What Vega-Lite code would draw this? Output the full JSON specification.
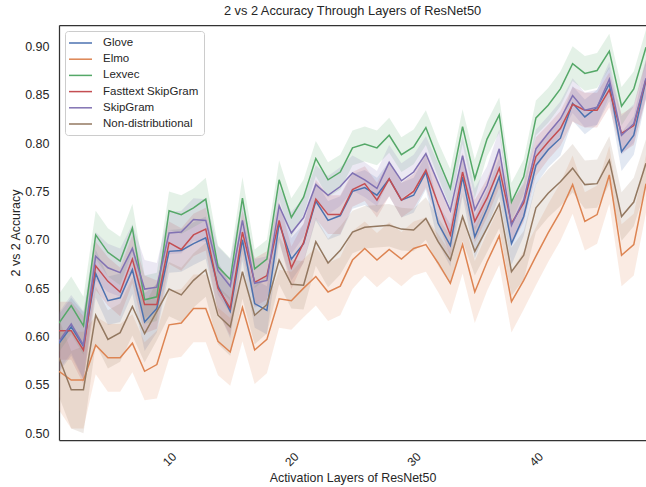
{
"$schema": "https://vega.github.io/schema/vega-lite/v6.json",
"width": 587, "height": 415,
"autosize": "none",
"padding": {"left": 59, "top": 25, "right": 0, "bottom": 47},
"background": "white",
"config": {"view": {"stroke": null}, "font": "Liberation Sans"},
"title": {"text": "2 vs 2 Accuracy Through Layers of ResNet50", "fontSize": 12.8, "fontWeight": "normal", "color": "#262626", "font": "Liberation Sans", "offset": 7},
"resolve": {"axis": {"x": "independent"}},
"data": {"values": [
{"layer":1,"model":"Glove","acc":0.593,"lo":0.563,"hi":0.623},
{"layer":2,"model":"Glove","acc":0.610,"lo":0.580,"hi":0.640},
{"layer":3,"model":"Glove","acc":0.590,"lo":0.555,"hi":0.625},
{"layer":4,"model":"Glove","acc":0.665,"lo":0.640,"hi":0.690},
{"layer":5,"model":"Glove","acc":0.637,"lo":0.612,"hi":0.662},
{"layer":6,"model":"Glove","acc":0.640,"lo":0.615,"hi":0.665},
{"layer":7,"model":"Glove","acc":0.669,"lo":0.644,"hi":0.694},
{"layer":8,"model":"Glove","acc":0.615,"lo":0.585,"hi":0.645},
{"layer":9,"model":"Glove","acc":0.629,"lo":0.604,"hi":0.654},
{"layer":10,"model":"Glove","acc":0.688,"lo":0.666,"hi":0.710},
{"layer":11,"model":"Glove","acc":0.689,"lo":0.667,"hi":0.711},
{"layer":12,"model":"Glove","acc":0.696,"lo":0.674,"hi":0.718},
{"layer":13,"model":"Glove","acc":0.702,"lo":0.680,"hi":0.724},
{"layer":14,"model":"Glove","acc":0.652,"lo":0.627,"hi":0.677},
{"layer":15,"model":"Glove","acc":0.626,"lo":0.598,"hi":0.654},
{"layer":16,"model":"Glove","acc":0.700,"lo":0.678,"hi":0.722},
{"layer":17,"model":"Glove","acc":0.634,"lo":0.609,"hi":0.659},
{"layer":18,"model":"Glove","acc":0.627,"lo":0.602,"hi":0.652},
{"layer":19,"model":"Glove","acc":0.717,"lo":0.697,"hi":0.737},
{"layer":20,"model":"Glove","acc":0.680,"lo":0.658,"hi":0.702},
{"layer":21,"model":"Glove","acc":0.696,"lo":0.676,"hi":0.716},
{"layer":22,"model":"Glove","acc":0.740,"lo":0.720,"hi":0.760},
{"layer":23,"model":"Glove","acc":0.720,"lo":0.700,"hi":0.740},
{"layer":24,"model":"Glove","acc":0.725,"lo":0.705,"hi":0.745},
{"layer":25,"model":"Glove","acc":0.750,"lo":0.732,"hi":0.768},
{"layer":26,"model":"Glove","acc":0.754,"lo":0.736,"hi":0.772},
{"layer":27,"model":"Glove","acc":0.746,"lo":0.728,"hi":0.764},
{"layer":28,"model":"Glove","acc":0.763,"lo":0.745,"hi":0.781},
{"layer":29,"model":"Glove","acc":0.741,"lo":0.723,"hi":0.759},
{"layer":30,"model":"Glove","acc":0.746,"lo":0.728,"hi":0.764},
{"layer":31,"model":"Glove","acc":0.770,"lo":0.752,"hi":0.788},
{"layer":32,"model":"Glove","acc":0.717,"lo":0.697,"hi":0.737},
{"layer":33,"model":"Glove","acc":0.694,"lo":0.672,"hi":0.716},
{"layer":34,"model":"Glove","acc":0.765,"lo":0.745,"hi":0.785},
{"layer":35,"model":"Glove","acc":0.703,"lo":0.681,"hi":0.725},
{"layer":36,"model":"Glove","acc":0.732,"lo":0.712,"hi":0.752},
{"layer":37,"model":"Glove","acc":0.765,"lo":0.745,"hi":0.785},
{"layer":38,"model":"Glove","acc":0.696,"lo":0.674,"hi":0.718},
{"layer":39,"model":"Glove","acc":0.724,"lo":0.704,"hi":0.744},
{"layer":40,"model":"Glove","acc":0.777,"lo":0.757,"hi":0.797},
{"layer":41,"model":"Glove","acc":0.793,"lo":0.775,"hi":0.811},
{"layer":42,"model":"Glove","acc":0.805,"lo":0.787,"hi":0.823},
{"layer":43,"model":"Glove","acc":0.841,"lo":0.823,"hi":0.859},
{"layer":44,"model":"Glove","acc":0.827,"lo":0.809,"hi":0.845},
{"layer":45,"model":"Glove","acc":0.837,"lo":0.819,"hi":0.855},
{"layer":46,"model":"Glove","acc":0.861,"lo":0.843,"hi":0.879},
{"layer":47,"model":"Glove","acc":0.791,"lo":0.771,"hi":0.811},
{"layer":48,"model":"Glove","acc":0.808,"lo":0.788,"hi":0.828},
{"layer":49,"model":"Glove","acc":0.865,"lo":0.845,"hi":0.885},
{"layer":1,"model":"Elmo","acc":0.564,"lo":0.524,"hi":0.604},
{"layer":2,"model":"Elmo","acc":0.555,"lo":0.505,"hi":0.605},
{"layer":3,"model":"Elmo","acc":0.555,"lo":0.505,"hi":0.605},
{"layer":4,"model":"Elmo","acc":0.591,"lo":0.561,"hi":0.621},
{"layer":5,"model":"Elmo","acc":0.578,"lo":0.543,"hi":0.613},
{"layer":6,"model":"Elmo","acc":0.578,"lo":0.543,"hi":0.613},
{"layer":7,"model":"Elmo","acc":0.593,"lo":0.563,"hi":0.623},
{"layer":8,"model":"Elmo","acc":0.564,"lo":0.534,"hi":0.594},
{"layer":9,"model":"Elmo","acc":0.571,"lo":0.536,"hi":0.606},
{"layer":10,"model":"Elmo","acc":0.612,"lo":0.577,"hi":0.647},
{"layer":11,"model":"Elmo","acc":0.614,"lo":0.579,"hi":0.649},
{"layer":12,"model":"Elmo","acc":0.629,"lo":0.594,"hi":0.664},
{"layer":13,"model":"Elmo","acc":0.629,"lo":0.594,"hi":0.664},
{"layer":14,"model":"Elmo","acc":0.595,"lo":0.560,"hi":0.630},
{"layer":15,"model":"Elmo","acc":0.584,"lo":0.549,"hi":0.619},
{"layer":16,"model":"Elmo","acc":0.630,"lo":0.595,"hi":0.665},
{"layer":17,"model":"Elmo","acc":0.586,"lo":0.551,"hi":0.621},
{"layer":18,"model":"Elmo","acc":0.597,"lo":0.562,"hi":0.632},
{"layer":19,"model":"Elmo","acc":0.639,"lo":0.609,"hi":0.669},
{"layer":20,"model":"Elmo","acc":0.637,"lo":0.607,"hi":0.667},
{"layer":21,"model":"Elmo","acc":0.650,"lo":0.620,"hi":0.680},
{"layer":22,"model":"Elmo","acc":0.662,"lo":0.632,"hi":0.692},
{"layer":23,"model":"Elmo","acc":0.646,"lo":0.616,"hi":0.676},
{"layer":24,"model":"Elmo","acc":0.652,"lo":0.622,"hi":0.682},
{"layer":25,"model":"Elmo","acc":0.679,"lo":0.649,"hi":0.709},
{"layer":26,"model":"Elmo","acc":0.691,"lo":0.663,"hi":0.719},
{"layer":27,"model":"Elmo","acc":0.679,"lo":0.651,"hi":0.707},
{"layer":28,"model":"Elmo","acc":0.690,"lo":0.662,"hi":0.718},
{"layer":29,"model":"Elmo","acc":0.680,"lo":0.652,"hi":0.708},
{"layer":30,"model":"Elmo","acc":0.691,"lo":0.663,"hi":0.719},
{"layer":31,"model":"Elmo","acc":0.695,"lo":0.667,"hi":0.723},
{"layer":32,"model":"Elmo","acc":0.676,"lo":0.646,"hi":0.706},
{"layer":33,"model":"Elmo","acc":0.655,"lo":0.623,"hi":0.687},
{"layer":34,"model":"Elmo","acc":0.695,"lo":0.665,"hi":0.725},
{"layer":35,"model":"Elmo","acc":0.646,"lo":0.614,"hi":0.678},
{"layer":36,"model":"Elmo","acc":0.677,"lo":0.647,"hi":0.707},
{"layer":37,"model":"Elmo","acc":0.704,"lo":0.674,"hi":0.734},
{"layer":38,"model":"Elmo","acc":0.636,"lo":0.604,"hi":0.668},
{"layer":39,"model":"Elmo","acc":0.658,"lo":0.628,"hi":0.688},
{"layer":40,"model":"Elmo","acc":0.683,"lo":0.653,"hi":0.713},
{"layer":41,"model":"Elmo","acc":0.707,"lo":0.677,"hi":0.737},
{"layer":42,"model":"Elmo","acc":0.729,"lo":0.699,"hi":0.759},
{"layer":43,"model":"Elmo","acc":0.757,"lo":0.727,"hi":0.787},
{"layer":44,"model":"Elmo","acc":0.719,"lo":0.689,"hi":0.749},
{"layer":45,"model":"Elmo","acc":0.726,"lo":0.696,"hi":0.756},
{"layer":46,"model":"Elmo","acc":0.767,"lo":0.737,"hi":0.797},
{"layer":47,"model":"Elmo","acc":0.684,"lo":0.652,"hi":0.716},
{"layer":48,"model":"Elmo","acc":0.695,"lo":0.663,"hi":0.727},
{"layer":49,"model":"Elmo","acc":0.758,"lo":0.728,"hi":0.788},
{"layer":1,"model":"Lexvec","acc":0.614,"lo":0.584,"hi":0.644},
{"layer":2,"model":"Lexvec","acc":0.632,"lo":0.602,"hi":0.662},
{"layer":3,"model":"Lexvec","acc":0.611,"lo":0.581,"hi":0.641},
{"layer":4,"model":"Lexvec","acc":0.705,"lo":0.680,"hi":0.730},
{"layer":5,"model":"Lexvec","acc":0.687,"lo":0.662,"hi":0.712},
{"layer":6,"model":"Lexvec","acc":0.678,"lo":0.653,"hi":0.703},
{"layer":7,"model":"Lexvec","acc":0.712,"lo":0.687,"hi":0.737},
{"layer":8,"model":"Lexvec","acc":0.638,"lo":0.613,"hi":0.663},
{"layer":9,"model":"Lexvec","acc":0.641,"lo":0.616,"hi":0.666},
{"layer":10,"model":"Lexvec","acc":0.730,"lo":0.710,"hi":0.750},
{"layer":11,"model":"Lexvec","acc":0.726,"lo":0.706,"hi":0.746},
{"layer":12,"model":"Lexvec","acc":0.733,"lo":0.713,"hi":0.753},
{"layer":13,"model":"Lexvec","acc":0.742,"lo":0.720,"hi":0.764},
{"layer":14,"model":"Lexvec","acc":0.672,"lo":0.650,"hi":0.694},
{"layer":15,"model":"Lexvec","acc":0.659,"lo":0.637,"hi":0.681},
{"layer":16,"model":"Lexvec","acc":0.743,"lo":0.721,"hi":0.765},
{"layer":17,"model":"Lexvec","acc":0.670,"lo":0.650,"hi":0.690},
{"layer":18,"model":"Lexvec","acc":0.680,"lo":0.660,"hi":0.700},
{"layer":19,"model":"Lexvec","acc":0.762,"lo":0.742,"hi":0.782},
{"layer":20,"model":"Lexvec","acc":0.723,"lo":0.703,"hi":0.743},
{"layer":21,"model":"Lexvec","acc":0.744,"lo":0.726,"hi":0.762},
{"layer":22,"model":"Lexvec","acc":0.784,"lo":0.766,"hi":0.802},
{"layer":23,"model":"Lexvec","acc":0.762,"lo":0.744,"hi":0.780},
{"layer":24,"model":"Lexvec","acc":0.770,"lo":0.752,"hi":0.788},
{"layer":25,"model":"Lexvec","acc":0.795,"lo":0.777,"hi":0.813},
{"layer":26,"model":"Lexvec","acc":0.799,"lo":0.781,"hi":0.817},
{"layer":27,"model":"Lexvec","acc":0.795,"lo":0.777,"hi":0.813},
{"layer":28,"model":"Lexvec","acc":0.808,"lo":0.790,"hi":0.826},
{"layer":29,"model":"Lexvec","acc":0.788,"lo":0.770,"hi":0.806},
{"layer":30,"model":"Lexvec","acc":0.796,"lo":0.778,"hi":0.814},
{"layer":31,"model":"Lexvec","acc":0.816,"lo":0.798,"hi":0.834},
{"layer":32,"model":"Lexvec","acc":0.783,"lo":0.765,"hi":0.801},
{"layer":33,"model":"Lexvec","acc":0.753,"lo":0.733,"hi":0.773},
{"layer":34,"model":"Lexvec","acc":0.817,"lo":0.799,"hi":0.835},
{"layer":35,"model":"Lexvec","acc":0.763,"lo":0.743,"hi":0.783},
{"layer":36,"model":"Lexvec","acc":0.804,"lo":0.786,"hi":0.822},
{"layer":37,"model":"Lexvec","acc":0.829,"lo":0.811,"hi":0.847},
{"layer":38,"model":"Lexvec","acc":0.739,"lo":0.719,"hi":0.759},
{"layer":39,"model":"Lexvec","acc":0.765,"lo":0.747,"hi":0.783},
{"layer":40,"model":"Lexvec","acc":0.826,"lo":0.808,"hi":0.844},
{"layer":41,"model":"Lexvec","acc":0.839,"lo":0.821,"hi":0.857},
{"layer":42,"model":"Lexvec","acc":0.856,"lo":0.838,"hi":0.874},
{"layer":43,"model":"Lexvec","acc":0.882,"lo":0.864,"hi":0.900},
{"layer":44,"model":"Lexvec","acc":0.872,"lo":0.854,"hi":0.890},
{"layer":45,"model":"Lexvec","acc":0.875,"lo":0.857,"hi":0.893},
{"layer":46,"model":"Lexvec","acc":0.895,"lo":0.877,"hi":0.913},
{"layer":47,"model":"Lexvec","acc":0.838,"lo":0.818,"hi":0.858},
{"layer":48,"model":"Lexvec","acc":0.856,"lo":0.838,"hi":0.874},
{"layer":49,"model":"Lexvec","acc":0.899,"lo":0.881,"hi":0.917},
{"layer":1,"model":"Fasttext SkipGram","acc":0.606,"lo":0.576,"hi":0.636},
{"layer":2,"model":"Fasttext SkipGram","acc":0.606,"lo":0.576,"hi":0.636},
{"layer":3,"model":"Fasttext SkipGram","acc":0.586,"lo":0.551,"hi":0.621},
{"layer":4,"model":"Fasttext SkipGram","acc":0.673,"lo":0.648,"hi":0.698},
{"layer":5,"model":"Fasttext SkipGram","acc":0.657,"lo":0.632,"hi":0.682},
{"layer":6,"model":"Fasttext SkipGram","acc":0.646,"lo":0.621,"hi":0.671},
{"layer":7,"model":"Fasttext SkipGram","acc":0.680,"lo":0.655,"hi":0.705},
{"layer":8,"model":"Fasttext SkipGram","acc":0.633,"lo":0.603,"hi":0.663},
{"layer":9,"model":"Fasttext SkipGram","acc":0.633,"lo":0.608,"hi":0.658},
{"layer":10,"model":"Fasttext SkipGram","acc":0.697,"lo":0.675,"hi":0.719},
{"layer":11,"model":"Fasttext SkipGram","acc":0.690,"lo":0.668,"hi":0.712},
{"layer":12,"model":"Fasttext SkipGram","acc":0.705,"lo":0.683,"hi":0.727},
{"layer":13,"model":"Fasttext SkipGram","acc":0.711,"lo":0.689,"hi":0.733},
{"layer":14,"model":"Fasttext SkipGram","acc":0.650,"lo":0.625,"hi":0.675},
{"layer":15,"model":"Fasttext SkipGram","acc":0.629,"lo":0.601,"hi":0.657},
{"layer":16,"model":"Fasttext SkipGram","acc":0.708,"lo":0.686,"hi":0.730},
{"layer":17,"model":"Fasttext SkipGram","acc":0.656,"lo":0.631,"hi":0.681},
{"layer":18,"model":"Fasttext SkipGram","acc":0.663,"lo":0.638,"hi":0.688},
{"layer":19,"model":"Fasttext SkipGram","acc":0.720,"lo":0.700,"hi":0.740},
{"layer":20,"model":"Fasttext SkipGram","acc":0.671,"lo":0.649,"hi":0.693},
{"layer":21,"model":"Fasttext SkipGram","acc":0.697,"lo":0.677,"hi":0.717},
{"layer":22,"model":"Fasttext SkipGram","acc":0.742,"lo":0.722,"hi":0.762},
{"layer":23,"model":"Fasttext SkipGram","acc":0.726,"lo":0.706,"hi":0.746},
{"layer":24,"model":"Fasttext SkipGram","acc":0.726,"lo":0.706,"hi":0.746},
{"layer":25,"model":"Fasttext SkipGram","acc":0.752,"lo":0.734,"hi":0.770},
{"layer":26,"model":"Fasttext SkipGram","acc":0.758,"lo":0.740,"hi":0.776},
{"layer":27,"model":"Fasttext SkipGram","acc":0.741,"lo":0.723,"hi":0.759},
{"layer":28,"model":"Fasttext SkipGram","acc":0.763,"lo":0.745,"hi":0.781},
{"layer":29,"model":"Fasttext SkipGram","acc":0.741,"lo":0.723,"hi":0.759},
{"layer":30,"model":"Fasttext SkipGram","acc":0.750,"lo":0.732,"hi":0.768},
{"layer":31,"model":"Fasttext SkipGram","acc":0.772,"lo":0.754,"hi":0.790},
{"layer":32,"model":"Fasttext SkipGram","acc":0.737,"lo":0.717,"hi":0.757},
{"layer":33,"model":"Fasttext SkipGram","acc":0.705,"lo":0.683,"hi":0.727},
{"layer":34,"model":"Fasttext SkipGram","acc":0.770,"lo":0.750,"hi":0.790},
{"layer":35,"model":"Fasttext SkipGram","acc":0.719,"lo":0.697,"hi":0.741},
{"layer":36,"model":"Fasttext SkipGram","acc":0.743,"lo":0.723,"hi":0.763},
{"layer":37,"model":"Fasttext SkipGram","acc":0.774,"lo":0.754,"hi":0.794},
{"layer":38,"model":"Fasttext SkipGram","acc":0.717,"lo":0.695,"hi":0.739},
{"layer":39,"model":"Fasttext SkipGram","acc":0.738,"lo":0.718,"hi":0.758},
{"layer":40,"model":"Fasttext SkipGram","acc":0.786,"lo":0.766,"hi":0.806},
{"layer":41,"model":"Fasttext SkipGram","acc":0.801,"lo":0.783,"hi":0.819},
{"layer":42,"model":"Fasttext SkipGram","acc":0.815,"lo":0.797,"hi":0.833},
{"layer":43,"model":"Fasttext SkipGram","acc":0.840,"lo":0.822,"hi":0.858},
{"layer":44,"model":"Fasttext SkipGram","acc":0.834,"lo":0.816,"hi":0.852},
{"layer":45,"model":"Fasttext SkipGram","acc":0.834,"lo":0.816,"hi":0.852},
{"layer":46,"model":"Fasttext SkipGram","acc":0.855,"lo":0.837,"hi":0.873},
{"layer":47,"model":"Fasttext SkipGram","acc":0.810,"lo":0.790,"hi":0.830},
{"layer":48,"model":"Fasttext SkipGram","acc":0.818,"lo":0.798,"hi":0.838},
{"layer":49,"model":"Fasttext SkipGram","acc":0.866,"lo":0.846,"hi":0.886},
{"layer":1,"model":"SkipGram","acc":0.595,"lo":0.565,"hi":0.625},
{"layer":2,"model":"SkipGram","acc":0.613,"lo":0.583,"hi":0.643},
{"layer":3,"model":"SkipGram","acc":0.591,"lo":0.556,"hi":0.626},
{"layer":4,"model":"SkipGram","acc":0.683,"lo":0.658,"hi":0.708},
{"layer":5,"model":"SkipGram","acc":0.671,"lo":0.646,"hi":0.696},
{"layer":6,"model":"SkipGram","acc":0.666,"lo":0.641,"hi":0.691},
{"layer":7,"model":"SkipGram","acc":0.691,"lo":0.666,"hi":0.716},
{"layer":8,"model":"SkipGram","acc":0.649,"lo":0.619,"hi":0.679},
{"layer":9,"model":"SkipGram","acc":0.651,"lo":0.626,"hi":0.676},
{"layer":10,"model":"SkipGram","acc":0.707,"lo":0.685,"hi":0.729},
{"layer":11,"model":"SkipGram","acc":0.708,"lo":0.686,"hi":0.730},
{"layer":12,"model":"SkipGram","acc":0.721,"lo":0.699,"hi":0.743},
{"layer":13,"model":"SkipGram","acc":0.720,"lo":0.698,"hi":0.742},
{"layer":14,"model":"SkipGram","acc":0.668,"lo":0.643,"hi":0.693},
{"layer":15,"model":"SkipGram","acc":0.652,"lo":0.624,"hi":0.680},
{"layer":16,"model":"SkipGram","acc":0.720,"lo":0.698,"hi":0.742},
{"layer":17,"model":"SkipGram","acc":0.655,"lo":0.630,"hi":0.680},
{"layer":18,"model":"SkipGram","acc":0.658,"lo":0.633,"hi":0.683},
{"layer":19,"model":"SkipGram","acc":0.735,"lo":0.715,"hi":0.755},
{"layer":20,"model":"SkipGram","acc":0.707,"lo":0.685,"hi":0.729},
{"layer":21,"model":"SkipGram","acc":0.723,"lo":0.703,"hi":0.743},
{"layer":22,"model":"SkipGram","acc":0.757,"lo":0.737,"hi":0.777},
{"layer":23,"model":"SkipGram","acc":0.746,"lo":0.726,"hi":0.766},
{"layer":24,"model":"SkipGram","acc":0.755,"lo":0.735,"hi":0.775},
{"layer":25,"model":"SkipGram","acc":0.769,"lo":0.751,"hi":0.787},
{"layer":26,"model":"SkipGram","acc":0.762,"lo":0.744,"hi":0.780},
{"layer":27,"model":"SkipGram","acc":0.753,"lo":0.735,"hi":0.771},
{"layer":28,"model":"SkipGram","acc":0.780,"lo":0.762,"hi":0.798},
{"layer":29,"model":"SkipGram","acc":0.761,"lo":0.743,"hi":0.779},
{"layer":30,"model":"SkipGram","acc":0.770,"lo":0.752,"hi":0.788},
{"layer":31,"model":"SkipGram","acc":0.789,"lo":0.771,"hi":0.807},
{"layer":32,"model":"SkipGram","acc":0.759,"lo":0.739,"hi":0.779},
{"layer":33,"model":"SkipGram","acc":0.730,"lo":0.708,"hi":0.752},
{"layer":34,"model":"SkipGram","acc":0.787,"lo":0.767,"hi":0.807},
{"layer":35,"model":"SkipGram","acc":0.731,"lo":0.709,"hi":0.753},
{"layer":36,"model":"SkipGram","acc":0.756,"lo":0.736,"hi":0.776},
{"layer":37,"model":"SkipGram","acc":0.794,"lo":0.774,"hi":0.814},
{"layer":38,"model":"SkipGram","acc":0.715,"lo":0.693,"hi":0.737},
{"layer":39,"model":"SkipGram","acc":0.741,"lo":0.721,"hi":0.761},
{"layer":40,"model":"SkipGram","acc":0.794,"lo":0.774,"hi":0.814},
{"layer":41,"model":"SkipGram","acc":0.810,"lo":0.792,"hi":0.828},
{"layer":42,"model":"SkipGram","acc":0.825,"lo":0.807,"hi":0.843},
{"layer":43,"model":"SkipGram","acc":0.849,"lo":0.831,"hi":0.867},
{"layer":44,"model":"SkipGram","acc":0.834,"lo":0.816,"hi":0.852},
{"layer":45,"model":"SkipGram","acc":0.837,"lo":0.819,"hi":0.855},
{"layer":46,"model":"SkipGram","acc":0.866,"lo":0.848,"hi":0.884},
{"layer":47,"model":"SkipGram","acc":0.808,"lo":0.788,"hi":0.828},
{"layer":48,"model":"SkipGram","acc":0.820,"lo":0.800,"hi":0.840},
{"layer":49,"model":"SkipGram","acc":0.867,"lo":0.847,"hi":0.887},
{"layer":1,"model":"Non-distributional","acc":0.578,"lo":0.538,"hi":0.618},
{"layer":2,"model":"Non-distributional","acc":0.545,"lo":0.505,"hi":0.585},
{"layer":3,"model":"Non-distributional","acc":0.545,"lo":0.500,"hi":0.590},
{"layer":4,"model":"Non-distributional","acc":0.622,"lo":0.592,"hi":0.652},
{"layer":5,"model":"Non-distributional","acc":0.597,"lo":0.567,"hi":0.627},
{"layer":6,"model":"Non-distributional","acc":0.604,"lo":0.574,"hi":0.634},
{"layer":7,"model":"Non-distributional","acc":0.631,"lo":0.601,"hi":0.661},
{"layer":8,"model":"Non-distributional","acc":0.603,"lo":0.573,"hi":0.633},
{"layer":9,"model":"Non-distributional","acc":0.626,"lo":0.596,"hi":0.656},
{"layer":10,"model":"Non-distributional","acc":0.649,"lo":0.621,"hi":0.677},
{"layer":11,"model":"Non-distributional","acc":0.643,"lo":0.615,"hi":0.671},
{"layer":12,"model":"Non-distributional","acc":0.658,"lo":0.630,"hi":0.686},
{"layer":13,"model":"Non-distributional","acc":0.669,"lo":0.641,"hi":0.697},
{"layer":14,"model":"Non-distributional","acc":0.622,"lo":0.592,"hi":0.652},
{"layer":15,"model":"Non-distributional","acc":0.610,"lo":0.580,"hi":0.640},
{"layer":16,"model":"Non-distributional","acc":0.667,"lo":0.639,"hi":0.695},
{"layer":17,"model":"Non-distributional","acc":0.622,"lo":0.592,"hi":0.652},
{"layer":18,"model":"Non-distributional","acc":0.633,"lo":0.603,"hi":0.663},
{"layer":19,"model":"Non-distributional","acc":0.679,"lo":0.654,"hi":0.704},
{"layer":20,"model":"Non-distributional","acc":0.654,"lo":0.629,"hi":0.679},
{"layer":21,"model":"Non-distributional","acc":0.653,"lo":0.628,"hi":0.678},
{"layer":22,"model":"Non-distributional","acc":0.698,"lo":0.673,"hi":0.723},
{"layer":23,"model":"Non-distributional","acc":0.676,"lo":0.651,"hi":0.701},
{"layer":24,"model":"Non-distributional","acc":0.689,"lo":0.664,"hi":0.714},
{"layer":25,"model":"Non-distributional","acc":0.708,"lo":0.686,"hi":0.730},
{"layer":26,"model":"Non-distributional","acc":0.713,"lo":0.691,"hi":0.735},
{"layer":27,"model":"Non-distributional","acc":0.714,"lo":0.692,"hi":0.736},
{"layer":28,"model":"Non-distributional","acc":0.715,"lo":0.693,"hi":0.737},
{"layer":29,"model":"Non-distributional","acc":0.711,"lo":0.689,"hi":0.733},
{"layer":30,"model":"Non-distributional","acc":0.710,"lo":0.688,"hi":0.732},
{"layer":31,"model":"Non-distributional","acc":0.722,"lo":0.700,"hi":0.744},
{"layer":32,"model":"Non-distributional","acc":0.698,"lo":0.673,"hi":0.723},
{"layer":33,"model":"Non-distributional","acc":0.679,"lo":0.654,"hi":0.704},
{"layer":34,"model":"Non-distributional","acc":0.724,"lo":0.699,"hi":0.749},
{"layer":35,"model":"Non-distributional","acc":0.688,"lo":0.663,"hi":0.713},
{"layer":36,"model":"Non-distributional","acc":0.712,"lo":0.687,"hi":0.737},
{"layer":37,"model":"Non-distributional","acc":0.737,"lo":0.712,"hi":0.762},
{"layer":38,"model":"Non-distributional","acc":0.667,"lo":0.642,"hi":0.692},
{"layer":39,"model":"Non-distributional","acc":0.684,"lo":0.659,"hi":0.709},
{"layer":40,"model":"Non-distributional","acc":0.733,"lo":0.708,"hi":0.758},
{"layer":41,"model":"Non-distributional","acc":0.748,"lo":0.723,"hi":0.773},
{"layer":42,"model":"Non-distributional","acc":0.760,"lo":0.735,"hi":0.785},
{"layer":43,"model":"Non-distributional","acc":0.774,"lo":0.749,"hi":0.799},
{"layer":44,"model":"Non-distributional","acc":0.757,"lo":0.732,"hi":0.782},
{"layer":45,"model":"Non-distributional","acc":0.758,"lo":0.733,"hi":0.783},
{"layer":46,"model":"Non-distributional","acc":0.782,"lo":0.757,"hi":0.807},
{"layer":47,"model":"Non-distributional","acc":0.724,"lo":0.699,"hi":0.749},
{"layer":48,"model":"Non-distributional","acc":0.739,"lo":0.714,"hi":0.764},
{"layer":49,"model":"Non-distributional","acc":0.779,"lo":0.754,"hi":0.804}
]},
"layer": [
{
"mark": {"type": "area", "fillOpacity": 0.16, "clip": true},
"encoding": {
"x": {"field": "layer", "type": "quantitative", "scale": {"domain": [1, 49], "nice": false, "zero": false},
 "axis": {"orient": "top", "labels": false, "ticks": false, "grid": false, "title": null, "domain": true, "domainColor": "#333333", "domainWidth": 1.25}},
"y": {"field": "lo", "type": "quantitative"},
"y2": {"field": "hi"},
"color": {"field": "model", "type": "nominal",
 "scale": {"domain": ["Glove","Elmo","Lexvec","Fasttext SkipGram","SkipGram","Non-distributional"], "range": ["#4C72B0","#DD8452","#55A868","#C44E52","#8172B3","#937860"]},
 "legend": {"orient": "top-left", "offset": 6, "title": null, "symbolType": "M-1.33,0H2.5", "symbolSize": 144, "symbolStrokeWidth": 1.5, "symbolOpacity": 1,
  "labelFontSize": 11.5, "labelFont": "Liberation Sans", "labelColor": "#262626", "labelOffset": 19, "rowPadding": 3.2,
  "padding": 5, "fillColor": "white", "strokeColor": "#cccccc", "cornerRadius": 3}}
}
},
{
"mark": {"type": "line", "strokeWidth": 1.5, "clip": true},
"encoding": {
"x": {"field": "layer", "type": "quantitative",
 "axis": {"orient": "bottom", "values": [10,20,30,40], "labelAngle": -45, "labelAlign": "center", "labelBaseline": "middle", "labelPadding": 19, "ticks": false, "grid": false,
  "domainColor": "#333333", "domainWidth": 1.25, "labelFontSize": 12, "labelColor": "#262626", "labelFont": "Liberation Sans",
  "title": "Activation Layers of ResNet50", "titleFontSize": 12.4, "titleFontWeight": "normal", "titleColor": "#262626", "titleFont": "Liberation Sans", "titlePadding": 4}},
"y": {"field": "acc", "type": "quantitative", "scale": {"domain": [0.493, 0.922], "nice": false, "zero": false},
 "axis": {"values": [0.5,0.55,0.6,0.65,0.7,0.75,0.8,0.85,0.9], "format": ".2f", "ticks": false, "grid": false, "labelPadding": 10,
  "domainColor": "#333333", "domainWidth": 1.25, "labelFontSize": 12.5, "labelColor": "#262626", "labelFont": "Liberation Sans",
  "title": "2 vs 2 Accuracy", "titleFontSize": 12.4, "titleFontWeight": "normal", "titleColor": "#262626", "titleFont": "Liberation Sans", "titlePadding": 2}},
"color": {"field": "model", "type": "nominal",
 "legend": {"orient": "top-left", "offset": 6, "title": null, "symbolType": "M-1.33,0H2.5", "symbolSize": 144, "symbolStrokeWidth": 1.5, "symbolOpacity": 1,
  "labelFontSize": 11.5, "labelFont": "Liberation Sans", "labelColor": "#262626", "labelOffset": 19, "rowPadding": 3.2,
  "padding": 5, "fillColor": "white", "strokeColor": "#cccccc", "cornerRadius": 3}}
}
}
]
}
